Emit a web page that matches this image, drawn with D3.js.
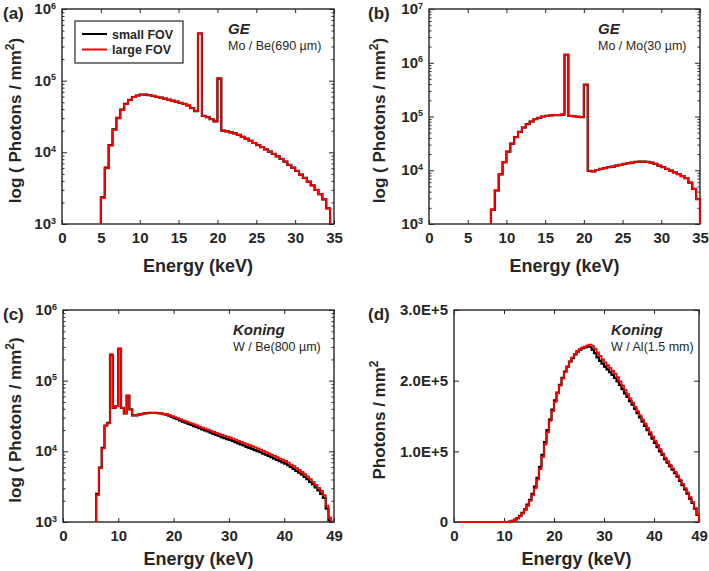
<!DOCTYPE html>
<html><head><meta charset="utf-8">
<script src="https://cdn.jsdelivr.net/npm/d3@7"></script>
<style>
body{margin:0;background:#fff;}
svg{display:block;font-family:"Liberation Sans",Arial,Helvetica,sans-serif;}
</style>
</head><body>
<svg id="chart" width="709" height="571"></svg>
<script>
// ---------------- DATA ----------------
const binWidthKeV = 0.5;
const seriesNames = ["small FOV", "large FOV"];
const panelLetters = ["(a)", "(b)", "(c)", "(d)"];
const sourceNames = ["GE", "GE", "Koning", "Koning"];
const filterNames = ["Mo / Be(690 µm)", "Mo / Mo(30 µm)", "W / Be(800 µm)", "W / Al(1.5 mm)"];

const xTicksGE = [0, 5, 10, 15, 20, 25, 30, 35];
const xTicksKoning = [0, 10, 20, 30, 40, 49];
const yTicksLog3 = [1e3, 1e4, 1e5, 1e6];
const yTicksLog4 = [1e3, 1e4, 1e5, 1e6, 1e7];
const yTicksLin = [0, 1e5, 2e5, 3e5];
const yTickLabelsLin = ["0", "1.0E+5", "2.0E+5", "3.0E+5"];

// (a) GE Mo/Be(690 um), bins from 5.0 keV
const startA = 5.0;
const largeA = [2300,6000,12400,20600,29900,39200,47000,54000,59000,62000,
  64000,64000,63000,61500,59500,58000,56000,54500,52500,51000,
  49000,47500,45000,41500,37500,460000,32300,31000,29000,27000,
  108000,20100,19600,19000,18400,17500,16500,15500,14500,13500,
  12600,11800,11000,10200,9500,8800,8100,7400,6700,6100,
  5500,4900,4400,3900,3450,3000,2600,2200,1650];
const smallA = [2350,6100,12600,20900,30200,39500,47300,54200,59200,62100,
  64100,64000,63000,61500,59500,58000,56000,54500,52500,51000,
  49000,47500,45000,41500,37500,455000,32300,31000,29000,27000,
  107000,20100,19600,19000,18400,17500,16500,15500,14500,13500,
  12600,11800,11000,10200,9500,8800,8100,7400,6700,6100,
  5500,4900,4400,3900,3450,3000,2600,2200,1650];

// (b) GE Mo/Mo(30 um), bins from 8.0 keV
const startB = 8.0;
const largeB = [1850,4200,8400,14100,22300,31400,41200,51800,62400,72000,
  80700,89000,94500,100000,103000,104500,106000,106000,108000,1410000,
  103000,101000,99000,97000,394000,9700,9500,10100,10600,11000,
  11400,11700,12200,12600,13100,13500,13900,14300,14500,14500,
  14300,13900,13100,12200,11400,10600,9850,9150,8500,7800,
  7100,5900,4500,2900];
const smallB = [1850,4200,8400,14100,22300,31400,41200,51800,62400,72000,
  80700,89000,94500,100000,103000,104500,106000,106000,108000,1400000,
  103000,101000,99000,97000,390000,9700,9500,10100,10600,11000,
  11400,11700,12200,12600,13100,13500,13900,14300,14500,14500,
  14300,13900,13100,12200,11400,10600,9850,9150,8500,7800,
  7100,5900,4500,2900];

// (c) Koning W/Be(800 um), bins from 6.0 keV
const startC = 6.0;
const largeC = [2400,5800,11000,22900,24900,235000,41300,43600,285000,41300,
  34400,61700,39200,32300,32300,33000,33700,34400,34700,35000,
  35000,35000,34700,34400,34000,33500,32500,31500,30500,29500,
  28500,27500,26600,25700,24800,24000,23200,22400,21700,21000,
  20300,19600,18900,18300,17700,17100,16600,16100,15700,15150,
  14600,14100,13600,13100,12600,12200,11800,11400,11000,10550,
  10150,9750,9350,8950,8600,8250,7900,7600,7300,6900,
  6500,6150,5800,5450,5100,4750,4400,4050,3700,3350,
  3050,2750,2400,1700,1150];
const smallC = [2500,5900,11200,23200,25200,232000,41300,43600,282000,41300,
  34400,61000,39200,32300,32300,33000,33700,34400,34700,35000,
  35000,35000,34700,34400,33600,33000,31900,30800,29600,28500,
  27400,26400,25400,24500,23600,22800,22000,21200,20500,19800,
  19100,18400,17700,17100,16500,15900,15400,14900,14500,14000,
  13500,13000,12500,12100,11600,11200,10800,10400,10100,9700,
  9300,8950,8600,8250,7900,7550,7250,6950,6700,6350,
  6000,5650,5300,5000,4700,4350,4050,3700,3400,3100,
  2800,2500,2200,1550,1050];

// (d) Koning W/Al(1.5 mm), linear, bins from 1.0 keV
const startD = 1.0;
const largeD = [0,0,0,0,0,0,0,0,0,0,0,0,0,0,0,0,0,0,0,0,
  500,1500,3000,5000,8000,12000,17000,23000,30000,38000,
  48000,60000,75000,92000,110000,127000,143000,157000,170000,182000,
  193000,203000,212000,220000,227000,233000,238000,242000,245000,247000,
  248000,250000,251000,249000,245000,240000,235000,230000,226000,222000,
  218000,214000,210000,205000,199000,193000,187000,181000,175000,169000,
  163000,157000,151000,145000,139000,133000,127000,121000,115000,109000,
  103000,97000,91000,86000,81000,76000,71000,66000,60000,54000,
  48000,42000,35000,28000,20000,11000];
const smallD = [0,0,0,0,0,0,0,0,0,0,0,0,0,0,0,0,0,0,0,0,
  600,1700,3300,5500,8700,13000,18000,24500,31500,40000,
  50000,62500,78000,95000,113000,130000,145000,159000,172000,183000,
  194000,204000,213000,220000,227000,232000,237000,241000,244000,246000,
  247000,248000,248000,244000,239000,233000,228000,224000,220000,216000,
  212000,208000,204000,199000,194000,188000,182000,177000,171000,166000,
  160000,154000,148000,142000,136000,130000,124000,118000,112000,106000,
  100000,95000,89000,84000,79000,74000,69000,64000,58000,52000,
  46000,40000,33000,27000,19000,10000];

// ---------------- DRAWING ----------------
const TXT = "#262626";
const svg = d3.select("#chart");

function stairsPath(x, y, start, values, floorVal) {
  const pts = [[x(start), y(floorVal)]];
  values.forEach((v, i) => {
    const a = start + i * binWidthKeV;
    pts.push([x(a), y(v)]);
    pts.push([x(a + binWidthKeV), y(v)]);
  });
  pts.push([x(start + values.length * binWidthKeV), y(floorVal)]);
  return d3.line()(pts);
}

function styleAxis(sel) {
  sel.select(".domain").remove();
  sel.selectAll(".tick line").attr("stroke", TXT).attr("stroke-width", 1);
  sel.selectAll(".tick text").attr("fill", TXT).attr("font-size", 15).attr("font-weight", "bold");
}

function drawPanel(p) {
  const w = p.right - p.left, h = p.bottom - p.top;
  const g = svg.append("g").attr("transform", `translate(${p.left},${p.top})`);
  const x = d3.scaleLinear().domain(p.xDomain).range([0, w]);
  const y = (p.log ? d3.scaleLog() : d3.scaleLinear()).domain(p.yDomain).range([h, 0]).clamp(true);

  // frame
  g.append("rect").attr("width", w).attr("height", h)
    .attr("fill", "#fff").attr("stroke", TXT).attr("stroke-width", 1.4);

  // x axes
  g.append("g").attr("transform", `translate(0,${h})`)
    .call(d3.axisBottom(x).tickValues(p.xTicks).tickSize(-4).tickPadding(8).tickFormat(d3.format("d")))
    .call(styleAxis);
  g.append("g")
    .call(d3.axisTop(x).tickValues(p.xTicks).tickSize(-4).tickFormat(""))
    .call(styleAxis);

  // y axes
  const left = g.append("g")
    .call(d3.axisLeft(y).tickValues(p.yTicks).tickSize(-5).tickPadding(6)
      .tickFormat(p.log ? (d => "") : ((d, i) => p.yLabels[i])))
    .call(styleAxis);
  if (p.log) {
    left.selectAll(".tick text").each(function(d) {
      const t = d3.select(this);
      t.text(null);
      t.append("tspan").attr("dy", 4.5).text("10");
      t.append("tspan").attr("dy", -5.5).attr("font-size", 9).text(Math.round(Math.log10(d)));
    });
  }
  g.append("g").attr("transform", `translate(${w},0)`)
    .call(d3.axisRight(y).tickValues(p.yTicks).tickSize(-5).tickFormat(""))
    .call(styleAxis);
  if (p.log) {
    const minors = [];
    p.yTicks.slice(0, -1).forEach(d => { for (let k = 2; k <= 9; k++) minors.push(k * d); });
    g.append("g").call(d3.axisLeft(y).tickValues(minors).tickSize(-2.5).tickFormat("")).call(styleAxis);
    g.append("g").attr("transform", `translate(${w},0)`)
      .call(d3.axisRight(y).tickValues(minors).tickSize(-2.5).tickFormat("")).call(styleAxis);
  }

  // series
  p.series.forEach(s => {
    g.append("path")
      .attr("d", stairsPath(x, y, s.start, s.values, p.yDomain[0]))
      .attr("fill", "none").attr("stroke", s.color).attr("stroke-width", s.width)
      .attr("stroke-linejoin", "miter");
  });

  // labels
  g.append("text").attr("x", w / 2).attr("y", h + p.xlabelDy).attr("text-anchor", "middle")
    .attr("font-size", 18).attr("font-weight", "bold").attr("fill", TXT).text("Energy (keV)");

  const yl = g.append("text")
    .attr("transform", `translate(${p.ylabelX},${h / 2 + 4}) rotate(-90)`)
    .attr("text-anchor", "middle").attr("font-size", 17).attr("font-weight", "bold").attr("fill", TXT);
  yl.append("tspan").text(p.log ? "log ( Photons / mm" : "Photons / mm");
  yl.append("tspan").attr("dy", -7).attr("font-size", 12).text("2");
  if (p.log) yl.append("tspan").attr("dy", 7).text(")");

  svg.append("text").attr("x", p.letterX).attr("y", p.top + 10)
    .attr("font-size", 17).attr("font-weight", "bold").attr("fill", TXT).text(p.letter);

  svg.append("text").attr("x", p.annX).attr("y", p.top + 25)
    .attr("font-size", 15).attr("font-weight", "bold").attr("font-style", "italic").attr("fill", TXT).text(p.source);
  svg.append("text").attr("x", p.annX).attr("y", p.top + 41)
    .attr("font-size", 12.5).attr("fill", TXT).text(p.filter);

  return {g, x, y};
}

const colors = ["#000000", "#ff0000"];

drawPanel({
  left: 62, right: 334, top: 9, bottom: 224, xDomain: [0, 35], xTicks: xTicksGE,
  log: true, yDomain: [1e3, 1e6], yTicks: yTicksLog3, ylabelX: -41, xlabelDy: 48,
  letter: panelLetters[0], letterX: 3, annX: 228, source: sourceNames[0], filter: filterNames[0],
  series: [{start: startA, values: smallA, color: colors[0], width: 2.2},
           {start: startA, values: largeA, color: colors[1], width: 1.8}]
});
drawPanel({
  left: 429, right: 700, top: 9, bottom: 224, xDomain: [0, 35], xTicks: xTicksGE,
  log: true, yDomain: [1e3, 1e7], yTicks: yTicksLog4, ylabelX: -44, xlabelDy: 48,
  letter: panelLetters[1], letterX: 368, annX: 598, source: sourceNames[1], filter: filterNames[1],
  series: [{start: startB, values: smallB, color: colors[0], width: 2.2},
           {start: startB, values: largeB, color: colors[1], width: 1.8}]
});
drawPanel({
  left: 63, right: 334, top: 310, bottom: 522, xDomain: [0, 49], xTicks: xTicksKoning,
  log: true, yDomain: [1e3, 1e6], yTicks: yTicksLog3, ylabelX: -42, xlabelDy: 43,
  letter: panelLetters[2], letterX: 3, annX: 233, source: sourceNames[2], filter: filterNames[2],
  series: [{start: startC, values: smallC, color: colors[0], width: 2.2},
           {start: startC, values: largeC, color: colors[1], width: 1.8}]
});
drawPanel({
  left: 454, right: 699, top: 310, bottom: 522, xDomain: [0, 49], xTicks: xTicksKoning,
  log: false, yDomain: [0, 3e5], yTicks: yTicksLin, yLabels: yTickLabelsLin, ylabelX: -69, xlabelDy: 43,
  letter: panelLetters[3], letterX: 368, annX: 611, source: sourceNames[3], filter: filterNames[3],
  series: [{start: startD, values: smallD, color: colors[0], width: 2.2},
           {start: startD, values: largeD, color: colors[1], width: 1.8}]
});

// legend in (a)
const lg = svg.append("g");
lg.append("rect").attr("x", 75).attr("y", 21).attr("width", 108).attr("height", 42)
  .attr("fill", "#fff").attr("stroke", TXT).attr("stroke-width", 1.2);
seriesNames.forEach((n, i) => {
  const yy = 34 + i * 15.5;
  lg.append("line").attr("x1", 82).attr("x2", 107).attr("y1", yy).attr("y2", yy)
    .attr("stroke", colors[i]).attr("stroke-width", 2);
  lg.append("text").attr("x", 112).attr("y", yy + 4.5).attr("font-size", 12.5)
    .attr("font-weight", "bold").attr("fill", TXT).text(n);
});
</script>
</body></html>
